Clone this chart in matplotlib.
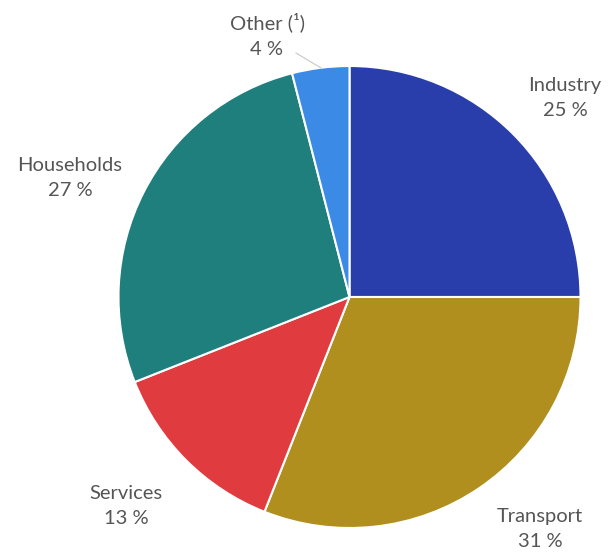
import matplotlib
matplotlib.use("Agg")
import matplotlib.pyplot as plt

categories = ["Industry", "Transport", "Services", "Households", "Other (¹)"]
shares = [25, 31, 13, 27, 4]
colors = ["#2A3EAB", "#B08F1F", "#E03B3E", "#1F7F7D", "#3B8BE6"]

# label centre positions (pixel coords, y downward) for each slice
label_pos = [(565, 98), (540, 529), (126, 506), (70, 178), (267, 35)]

W, H = 610, 556
fig = plt.figure(figsize=(W / 100, H / 100), dpi=100)
ax = fig.add_axes([0, 0, 1, 1])

cx, cy, r = 349.5, H - 297, 231
ax.pie(shares, colors=colors, startangle=90, counterclock=False,
       center=(cx, cy), radius=r, frame=True,
       wedgeprops=dict(edgecolor="white", linewidth=1.5))
ax.set_xlim(0, W)
ax.set_ylim(0, H)
ax.set_aspect("equal")
ax.axis("off")

for name, val, (lx, ly) in zip(categories, shares, label_pos):
    ax.text(lx, H - ly, f"{name}\n{val} %", ha="center", va="center",
            fontsize=14.5, color="#555555", family=["Lato", "DejaVu Sans"],
            linespacing=1.6)

# leader line for the small slice
ax.plot([296, 321], [H - 53, H - 68], color="#C8C8C8", lw=0.8)

fig.savefig("out.png", dpi=100)
